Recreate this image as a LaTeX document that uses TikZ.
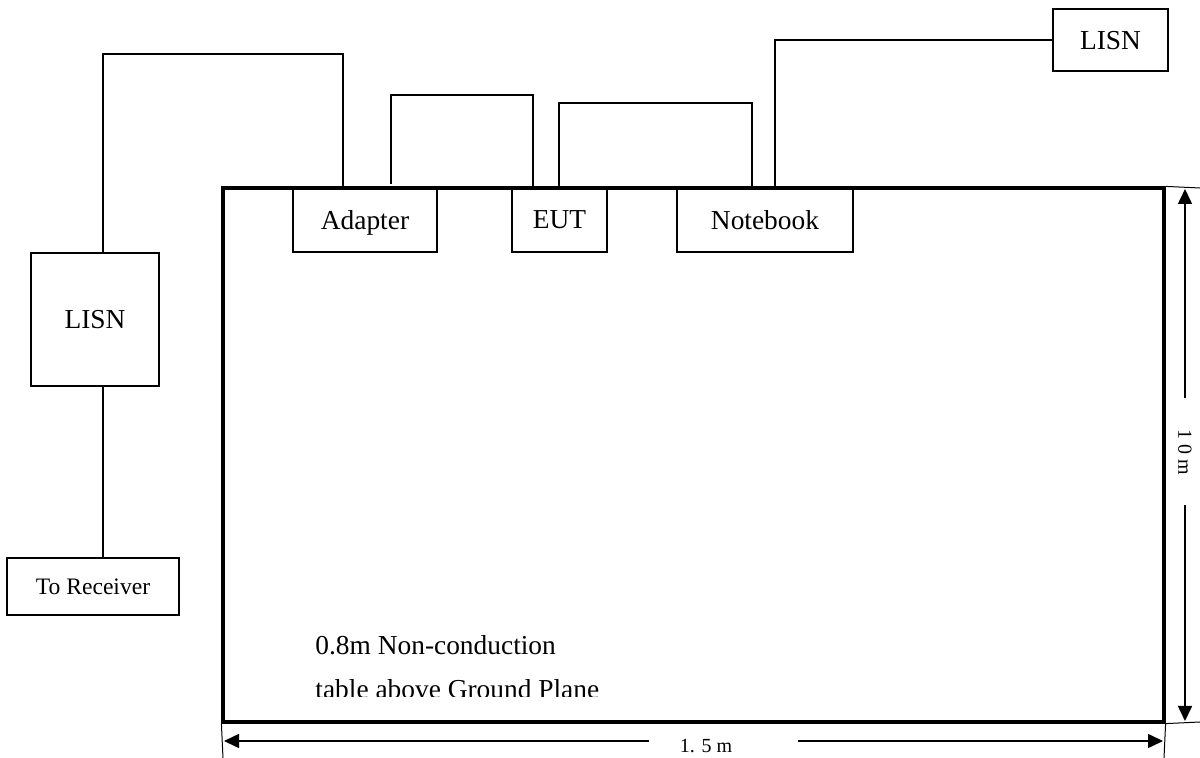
\documentclass[tikz,border=0pt]{standalone}
\usepackage{fontspec}
\setmainfont{Liberation Serif}
\usetikzlibrary{arrows.meta}
\begin{document}
\begin{tikzpicture}[x=0.5pt,y=-0.5pt,
  box/.style={draw,line width=0.9pt,inner sep=0pt,text depth=0pt,font=\fontsize{13.7}{16}\selectfont},
  wire/.style={line width=0.85pt},
  dimline/.style={line width=0.8pt,-{Triangle[length=7.5pt,width=7pt]}},
  extline/.style={line width=0.5pt},
  dimlabel/.style={font=\fontsize{10}{12}\selectfont,inner sep=1pt}]
\useasboundingbox (0,0) rectangle (1200,758);
% table
\node[draw,line width=1.6pt,minimum width=470.5pt,minimum height=267pt,inner sep=0pt] (table) at (693.5,455) {};
% boxes
\node[box,minimum width=64pt,minimum height=66.5pt] (lisnL) at (95,319.5) {LISN};
\node[box,minimum width=57.5pt,minimum height=31pt] (lisnR) at (1110.5,40) {LISN};
\node[box,minimum width=86pt,minimum height=28.5pt,font=\fontsize{11.8}{14}\selectfont] (recv) at (93,586.5) {To Receiver};
\node[box,minimum width=72pt,minimum height=32pt] (adapter) at (365,220) {Adapter};
\node[box,minimum width=47.5pt,minimum height=32pt] (eut) at (559.5,220) {EUT};
\node[box,minimum width=88pt,minimum height=32pt] (notebook) at (765,220) {Notebook};
% wires
\draw[wire] (lisnL.north -| 103,0) |- (343,54) -- (adapter.north -| 343,0);
\draw[wire] ([yshift=1.5pt]adapter.north -| 391,0) |- (533,95) -- (eut.north -| 533,0);
\draw[wire] (eut.north -| 559,0) |- (752,103) -- (notebook.north -| 752,0);
\draw[wire] (notebook.north -| 775,0) |- (lisnR.west);
\draw[wire] (lisnL.south -| 103,0) -- (recv.north -| 103,0);
% table text
\node[anchor=base west,inner sep=0pt,font=\fontsize{13.7}{16}\selectfont] (t1) at (315,655) {0.8m Non-conduction};
\begin{scope}
\clip (300,660) rectangle (700,697);
\node[anchor=base west,inner sep=0pt,font=\fontsize{13.7}{16}\selectfont] (t2) at (315,699) {table above Ground Plane};
\end{scope}
% vertical dimension
\draw[extline] (table.north east) -- (1200,188);
\draw[extline] (table.south east) -- (1200,722);
\coordinate (vtop) at (1185,189);
\coordinate (vbot) at (1185,721);
\coordinate (vg1) at (1185,398);
\coordinate (vg2) at (1185,505);
\draw[dimline] (vg1) -- (vtop);
\draw[dimline] (vg2) -- (vbot);
\node[dimlabel,rotate=-90] (vlab) at (1185,452) {1 0 m};
% horizontal dimension
\draw[extline] (table.south west) -- (223,758);
\draw[extline] (table.south east) -- (1164,758);
\coordinate (hl) at (224,741);
\coordinate (hr) at (1163,741);
\coordinate (hg1) at (649,741);
\coordinate (hg2) at (798,741);
\draw[dimline] (hg1) -- (hl);
\draw[dimline] (hg2) -- (hr);
\node[dimlabel] (hlab) at (706,746) {1. 5 m};
\end{tikzpicture}
\end{document}
